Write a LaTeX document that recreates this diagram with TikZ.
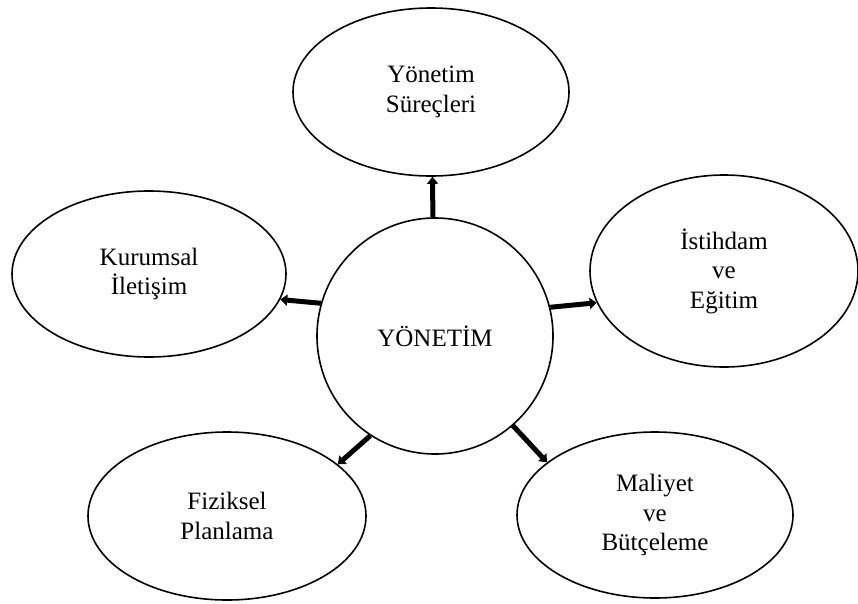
\documentclass[tikz,border=0pt]{standalone}
\usepackage{fontspec}
\setmainfont{Liberation Serif}
\usetikzlibrary{shapes.geometric,arrows.meta}
\begin{document}
\begin{tikzpicture}[x=1pt,y=-1pt,
  bubble/.style={ellipse,draw,line width=1.6pt,inner sep=0pt,align=center,
    font=\fontsize{25}{29.5}\selectfont},
  link/.style={line width=5pt,-{Triangle[length=7pt,width=11pt]}}]
\useasboundingbox (0,0) rectangle (858,603);

% central concept
\node[bubble,circle,minimum size=236pt] (core) at (435,336) {YÖNETİM};

% surrounding topics
\node[bubble,minimum width=276pt,minimum height=168pt] (proc) at (431,92) {Yönetim\\Süreçleri};
\node[bubble,minimum width=274pt,minimum height=166pt] (comm) at (149,274) {Kurumsal\\İletişim};
\node[bubble,minimum width=268pt,minimum height=192pt] (empl) at (724,271) {İstihdam\\ve\\Eğitim};
\node[bubble,minimum width=278pt,minimum height=168pt] (phys) at (227,516) {Fiziksel\\Planlama};
\node[bubble,minimum width=276pt,minimum height=166pt] (cost) at (655,515) {Maliyet\\ve\\Bütçeleme};

% links from the core outwards
\draw[link] (core.91)   -- (proc.-89);
\draw[link] (core.164)  -- (comm.-11);
\draw[link] (core.14)   -- (empl.-166);
\draw[link] (core.237)  -- (phys.25);
\draw[link] (core.-49.5) -- (cost.154);
\end{tikzpicture}
\end{document}
